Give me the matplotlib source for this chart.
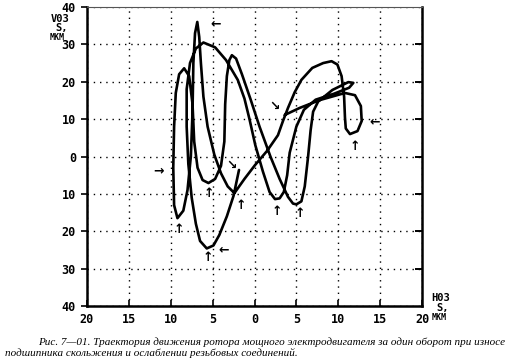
import matplotlib
matplotlib.use("Agg")
import matplotlib.pyplot as plt

# trajectory of the rotor (H03 S, V03 S in microns)
traj_x = [3.6, 5.4, 7.8, 10.8, 12.0, 12.7, 12.8, 12.3, 11.4, 10.9, 10.8, 10.7, 10.4, 9.9, 9.2,
          8.2, 6.9, 5.6, 4.8, 4.0, 3.4, 2.8, 1.5, 0.06, -1.2, -2.4, -3.2, -4.0, -4.8, -5.6,
          -6.1, -6.4, -6.6, -6.83, -7.1, -7.3, -7.4, -7.6, -8.0, -8.5, -9.2, -9.6, -9.7, -9.6,
          -9.4, -9.0, -8.4, -7.8, -7.4, -7.2, -6.8, -6.2, -5.5, -4.7, -4.0, -3.6, -3.5, -3.3,
          -3.0, -2.7, -2.2, -1.5, -0.5, 0.6, 1.9, 3.0, 4.0, 4.6, 5.0, 5.6, 6.0, 6.4, 6.7, 7.0,
          7.6, 9.3, 11.2, 11.8, 11.3, 9.5, 7.3, 5.9, 5.0, 4.2, 3.9, 3.5, 3.0, 2.45, 1.8, 1.0,
          0.1, -0.6, -1.2, -2.0, -3.4, -4.7, -6.1, -7.0, -7.7, -8.1, -8.1, -7.9, -7.5, -7.0,
          -6.5, -5.7, -4.9, -4.2, -3.3, -2.5, -1.85]
traj_y = [11.1, 13.0, 15.1, 17.0, 16.4, 13.5, 9.5, 6.8, 6.0, 7.5, 10.5, 16.0, 21.5, 24.6, 25.5,
          25.0, 23.7, 20.5, 17.2, 13.0, 9.5, 5.7, 1.5, -2.3, -6.0, -9.8, -8.0, -4.5, 0.5, 8.0,
          16.0, 25.0, 32.0, 36.0, 33.0, 25.0, 12.0, 0.0, -9.0, -14.5, -16.5, -13.0, -3.0, 8.0,
          17.0, 22.0, 23.6, 21.5, 14.0, 4.0, -3.0, -6.3, -7.1, -6.0, -2.5, 4.0, 14.0, 21.5,
          25.8, 27.1, 26.2, 22.0, 15.5, 8.0, 0.0, -6.0, -10.8, -12.6, -12.8, -12.0, -8.0, 0.0, 7.0, 12.0,
          14.7, 17.8, 19.9, 19.7, 18.4, 16.8, 15.2, 12.5, 8.0, 1.0, -5.0, -9.5, -11.2, -11.4, -9.5, -4.0,
          3.0, 10.0, 15.5, 20.5, 25.8, 29.2, 30.5, 28.9, 25.0, 18.0, 8.0, -2.0, -11.0, -18.0,
          -22.6, -24.6, -23.8, -21.0, -16.0, -10.5, -3.6]

x_ticks = [-20, -15, -10, -5, 0, 5, 10, 15, 20]
x_tick_labels = ["20", "15", "10", "5", "0", "5", "10", "15", "20"]
y_ticks = [-40, -30, -20, -10, 0, 10, 20, 30, 40]
y_tick_labels = ["40", "30", "20", "10", "0", "10", "20", "30", "40"]

# direction marks (arrow glyph, x, y)
mark_text = ["←", "→", "↘", "↘", "←", "↑", "↑", "↑", "↑", "↑", "←", "↑", "↑"]
mark_x = [-4.6, -11.5, -2.8, 2.45, 14.4, 12.0, -9.0, -5.4, -1.65, -5.6, -3.7, 2.65, 5.4]
mark_y = [35.6, -3.9, -2.3, 13.5, 9.3, 2.6, -19.5, -9.8, -13.0, -27.0, -25.0, -14.8, -15.2]

caption1 = "Рис. 7—01. Траектория движения ротора мощного электродвигателя за один оборот при износе"
caption2 = "подшипника скольжения и ослаблении резьбовых соединений."

fig = plt.figure(figsize=(5.07, 3.60), dpi=100)
ax = fig.add_axes([87/507, 1-306/360, (422-87)/507, (306-7)/360])
ax.set_xlim(-20, 20)
ax.set_ylim(-40, 40)

ax.plot(traj_x, traj_y, color="black", lw=1.9, solid_joinstyle="round", solid_capstyle="round", zorder=3)

for t, x, y in zip(mark_text, mark_x, mark_y):
    ax.text(x, y, t, ha="center", va="center", fontsize=9, fontweight="bold",
            family="DejaVu Sans", zorder=4)

ax.set_xticks(x_ticks)
ax.set_xticklabels(x_tick_labels)
ax.set_yticks(y_ticks)
ax.set_yticklabels(y_tick_labels)
for lab in ax.get_xticklabels() + ax.get_yticklabels():
    lab.set_family("DejaVu Sans Mono")
    lab.set_fontweight("bold")
    lab.set_fontsize(8.5)

ax.grid(True, color="black", linestyle=(0, (1, 3.5)), linewidth=1.0)
ax.tick_params(axis="y", which="both", left=True, right=False, direction="out", length=4, width=1.2, pad=4)
ax.tick_params(axis="x", which="both", bottom=True, top=False, direction="in", length=4, width=1.2, pad=5)

for s in ["left", "bottom", "right"]:
    ax.spines[s].set_linewidth(1.8)
    ax.spines[s].set_color("black")
ax.spines["top"].set_linewidth(0.8)
ax.spines["top"].set_color("#555555")

# inward ticks on right spine
ax2 = ax.twinx()
ax2.set_ylim(-40, 40)
ax2.set_yticks(y_ticks[1:-1])
ax2.set_yticklabels([])
ax2.tick_params(axis="y", direction="in", length=5, width=1.4)
for s in ax2.spines.values():
    s.set_visible(False)

lab_kw = dict(ha="center", va="center", family="DejaVu Sans Mono", fontweight="bold")
fig.text(60/507, 1-19.5/360, "V03", fontsize=7.5, **lab_kw)
fig.text(62/507, 1-28.5/360, "S,", fontsize=7.5, **lab_kw)
fig.text(57/507, 1-37.5/360, "МКМ", fontsize=6, **lab_kw)

fig.text(441/507, 1-298/360, "H03", fontsize=7.5, **lab_kw)
fig.text(443/507, 1-307.5/360, "S,", fontsize=7.5, **lab_kw)
fig.text(439/507, 1-317/360, "МКМ", fontsize=6, **lab_kw)

fig.text(505/507, 1-342/360, caption1, ha="right", va="center", family="Liberation Serif",
         style="italic", fontsize=8.0)
fig.text(5/507, 1-353/360, caption2, ha="left", va="center", family="Liberation Serif",
         style="italic", fontsize=8.0)

fig.savefig("out.png", dpi=100)
